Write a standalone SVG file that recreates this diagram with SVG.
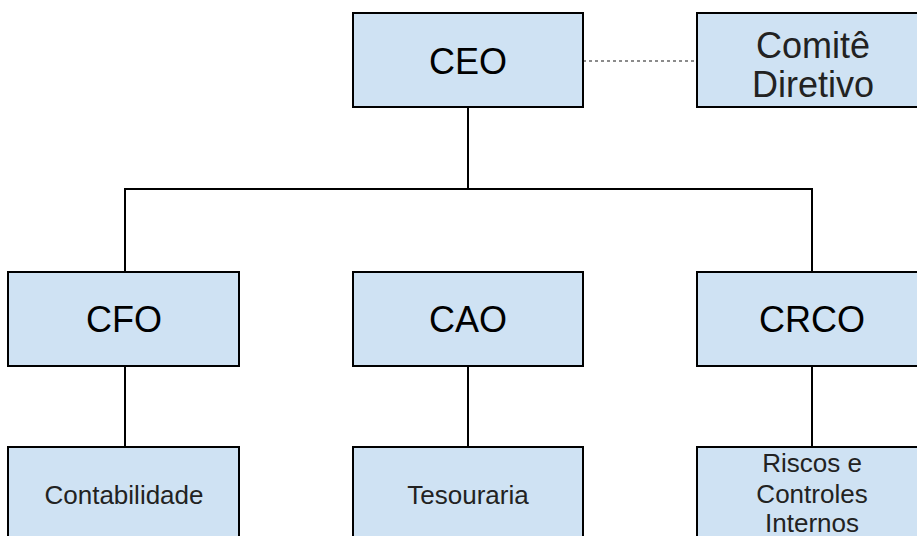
<svg xmlns="http://www.w3.org/2000/svg" width="917" height="536" viewBox="0 0 917 536">
<style>
.box{fill:#cfe2f3;stroke:#000;stroke-width:2}
.ln{fill:none;stroke:#000;stroke-width:2}
.dash{fill:none;stroke:#666;stroke-width:1.5;stroke-dasharray:3 3}
.big{font-family:"Liberation Sans",Arial,sans-serif;font-size:36px;fill:#000;text-anchor:middle}
.mid{font-family:"Liberation Sans",Arial,sans-serif;font-size:36px;fill:#222;text-anchor:middle}
.sm{font-family:"Liberation Sans",Arial,sans-serif;font-size:26px;fill:#222;text-anchor:middle}
</style>
<rect width="917" height="536" fill="#fff"/>
<g id="connectors">
<path class="dash" d="M583 61H697"/>
<path class="ln" d="M468 107V189M125 272V189H812V272"/>
<path class="ln" d="M125 366V447M468 366V447M812 366V447"/>
</g>
<g id="ceo"><rect class="box" x="353" y="13" width="230" height="94"/><text class="big" x="468" y="74">CEO</text></g>
<g id="comite"><rect class="box" x="697" y="13" width="230" height="94"/><text class="mid" x="813" y="58">Comitê</text><text class="mid" x="813" y="97">Diretivo</text></g>
<g id="cfo"><rect class="box" x="8" y="272" width="231" height="94"/><text class="big" x="124" y="332">CFO</text></g>
<g id="cao"><rect class="box" x="353" y="272" width="230" height="94"/><text class="big" x="468" y="332">CAO</text></g>
<g id="crco"><rect class="box" x="697" y="272" width="230" height="94"/><text class="big" x="812" y="332">CRCO</text></g>
<g id="contabilidade"><rect class="box" x="8" y="447" width="231" height="100"/><text class="sm" x="124" y="504">Contabilidade</text></g>
<g id="tesouraria"><rect class="box" x="353" y="447" width="230" height="100"/><text class="sm" x="468" y="504">Tesouraria</text></g>
<g id="riscos"><rect class="box" x="697" y="447" width="230" height="100"/><text class="sm" x="812" y="472">Riscos e</text><text class="sm" x="812" y="503">Controles</text><text class="sm" x="812" y="532">Internos</text></g>
</svg>
